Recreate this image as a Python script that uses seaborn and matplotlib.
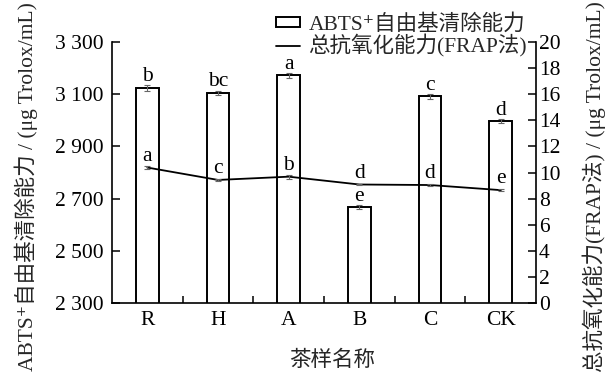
import numpy as np
import pandas as pd
import matplotlib
matplotlib.use("Agg")
import matplotlib.pyplot as plt
from matplotlib.patches import Patch
from matplotlib.lines import Line2D
from matplotlib.ticker import FuncFormatter, MultipleLocator, FixedLocator
import seaborn as sns

# Tea samples and measured antioxidant values
samples = ["R", "H", "A", "B", "C", "CK"]
abts_values = [3124, 3105, 3172, 2668, 3092, 2997]      # μg Trolox/mL
abts_sd = [10, 9, 10, 8, 9, 8]
abts_letters = ["b", "bc", "a", "e", "c", "d"]
frap_values = [10.38, 9.43, 9.68, 9.08, 9.04, 8.65]     # μg Trolox/mL
frap_sd = [0.10, 0.06, 0.15, 0.05, 0.05, 0.05]
frap_letters = ["a", "c", "b", "d", "d", "e"]
abts_ticks = [2300, 2500, 2700, 2900, 3100, 3300]

sns.set_theme(style="white")
plt.rcParams["font.family"] = ["Liberation Serif", "Noto Sans CJK SC", "DejaVu Sans"]
plt.rcParams["axes.unicode_minus"] = False
FS = 15.5

df = pd.DataFrame({"sample": samples, "abts": abts_values})
pos = np.arange(len(samples))

fig = plt.figure(figsize=(6.08, 3.75), dpi=100)
ax = fig.add_axes([112 / 608, 1 - 303 / 375, 424 / 608, 261 / 375])

sns.barplot(data=df, x="sample", y="abts", order=samples, color="white",
            edgecolor="black", linewidth=1.4, width=0.32, errorbar=None,
            saturation=1, ax=ax)
ax.errorbar(pos, abts_values, yerr=abts_sd, fmt="none", ecolor="0.4",
            elinewidth=0.8, capsize=2.2, capthick=0.8, zorder=3)
for x, v, s, lab in zip(pos, abts_values, abts_sd, abts_letters):
    ax.annotate(lab, (x, v + s), xytext=(0, 3), textcoords="offset points",
                ha="center", va="baseline", fontsize=FS, color="black")

ax.set_ylim(2300, 3300)
ax.yaxis.set_major_locator(FixedLocator(abts_ticks))
ax.yaxis.set_major_formatter(FuncFormatter(lambda v, p: f"{int(round(v)):,}".replace(",", " ")))

# secondary axis: FRAP line
ax2 = ax.twinx()
sns.lineplot(x=pos, y=frap_values, color="black", linewidth=1.3, ax=ax2)
ax2.errorbar(pos, frap_values, yerr=frap_sd, fmt="none", ecolor="0.4",
             elinewidth=0.8, capsize=2.2, capthick=0.8, zorder=3)
for x, v, lab in zip(pos, frap_values, frap_letters):
    ax2.annotate(lab, (x, v), xytext=(0, 5), textcoords="offset points",
                 ha="center", va="baseline", fontsize=FS, color="black")
ax2.set_ylim(0, 20)
ax2.yaxis.set_major_locator(MultipleLocator(2))
ax2.set_ylabel("")

ax.set_xlim(-0.5, len(samples) - 0.5)
ax.set_xticks(pos)
ax.set_xticklabels(samples)
ax.xaxis.set_minor_locator(FixedLocator(pos[:-1] + 0.5))
ax.set_xlabel("")
ax.set_ylabel("")

for a in (ax, ax2):
    a.spines["top"].set_visible(False)
    for sp in a.spines.values():
        sp.set_color("black")
        sp.set_linewidth(1.2)
ax.spines["right"].set_visible(False)
ax2.spines["left"].set_visible(False)
ax2.spines["bottom"].set_visible(False)

ax.tick_params(axis="x", which="major", length=0, pad=6, labelsize=FS, colors="black")
ax.tick_params(axis="x", which="minor", direction="in", length=5, width=1.1,
               bottom=True, color="black")
ax.tick_params(axis="y", direction="in", length=6, width=1.1, pad=6,
               labelsize=FS, left=True, colors="black")
ax2.tick_params(axis="y", direction="in", length=6, width=1.1, pad=2,
                labelsize=FS, right=True, colors="black")
ax.grid(False)
ax2.grid(False)

fig.text(26 / 608, 1 - 187 / 375, "ABTS⁺自由基清除能力 / (μg Trolox/mL)",
         rotation=90, ha="center", va="center", fontsize=FS)
fig.text(594 / 608, 1 - 187 / 375, "总抗氧化能力(FRAP法) / (μg Trolox/mL)",
         rotation=90, ha="center", va="center", fontsize=FS)
fig.text(332 / 608, 1 - 361 / 375, "茶样名称", ha="center", va="center", fontsize=FS)

handles = [Patch(facecolor="white", edgecolor="black", linewidth=1.4),
           Line2D([], [], color="black", linewidth=1.3)]
labels = ["ABTS⁺自由基清除能力", "总抗氧化能力(FRAP法)"]
fig.legend(handles, labels, loc="upper left", bbox_to_anchor=(276 / 608, 1 - 14 / 375),
           frameon=False, fontsize=FS, handlelength=1.1, handleheight=0.4,
           handletextpad=0.4, labelspacing=0.0, borderpad=0, borderaxespad=0)

fig.savefig("out.png", dpi=100)
